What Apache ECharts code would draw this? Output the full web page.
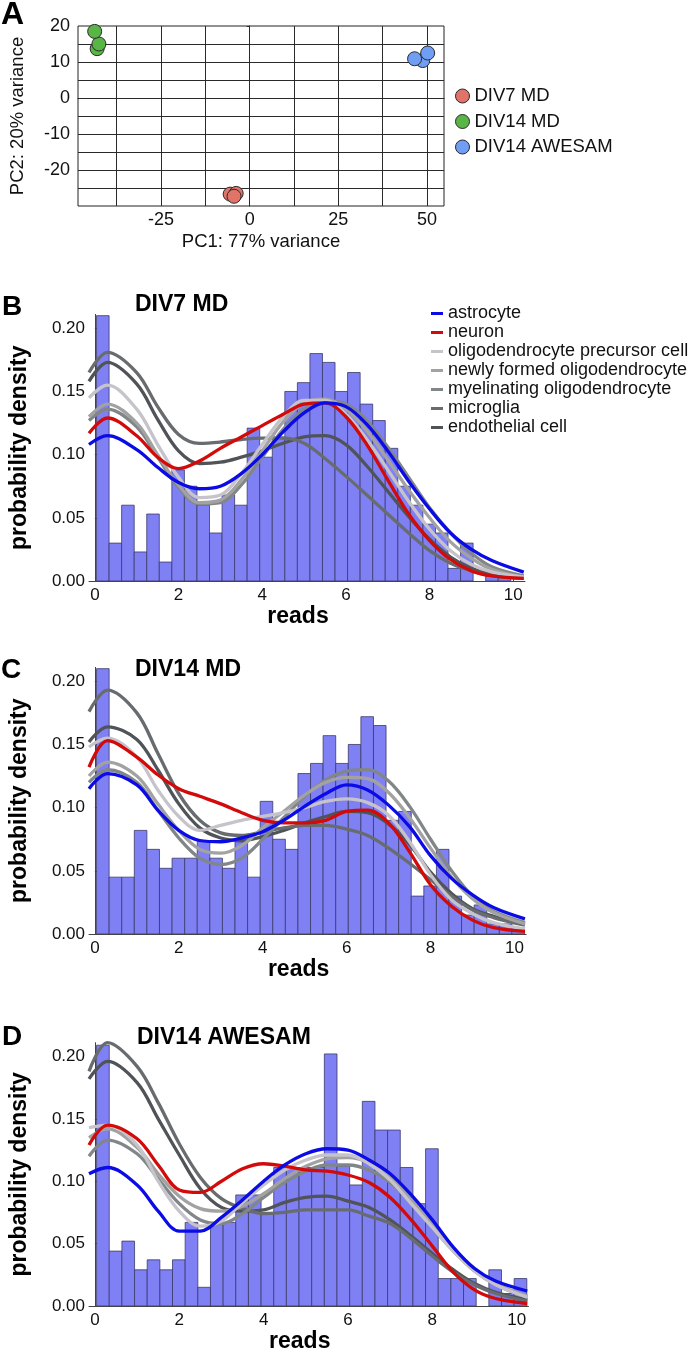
<!DOCTYPE html>
<html><head><meta charset="utf-8">
<script src="https://cdn.jsdelivr.net/npm/echarts@6/dist/echarts.min.js"></script>
<style>html,body{margin:0;padding:0;background:#fff}#main{width:700px;height:1354px}</style>
</head><body><div id="main"></div>
<script>
// ---------- Panel A: PCA ----------
const pcaGroups = ['DIV7 MD', 'DIV14 MD', 'DIV14 AWESAM'];
const pcaDIV7MD = [[-5.5, -26.7], [-3.8, -26.5], [-4.4, -27.3]];
const pcaDIV14MD = [[-43.0, 13.7], [-42.5, 15.0], [-43.7, 18.5]];
const pcaDIV14AWESAM = [[48.8, 10.4], [46.5, 10.9], [50.2, 12.5]];
const pcaXTicks = [-25, 0, 25, 50];
const pcaYTicks = [-20, -10, 0, 10, 20];
const pcaXGrid = [-37.5, -25, -12.5, 0, 12.5, 25, 37.5, 50];
const pcaYGrid = [-25, -20, -15, -10, -5, 0, 5, 10, 15];

// ---------- Panels B-D: histograms + densities ----------
const panelTitles = ['DIV7 MD', 'DIV14 MD', 'DIV14 AWESAM'];
const cellTypes = ['astrocyte', 'neuron', 'oligodendrocyte precursor cell', 'newly formed oligodendrocyte',
  'myelinating oligodendrocyte', 'microglia', 'endothelial cell'];
const readsTicks = [0, 2, 4, 6, 8, 10];
const densityTicks = [0, 0.05, 0.10, 0.15, 0.20];
const binEdges = [0.04, 0.34, 0.64, 0.94, 1.24, 1.54, 1.84, 2.14, 2.44, 2.74, 3.04, 3.34, 3.64, 3.94, 4.24,
  4.54, 4.84, 5.14, 5.44, 5.74, 6.04, 6.34, 6.64, 6.94, 7.24, 7.54, 7.84, 8.14, 8.44, 8.74, 9.04, 9.34,
  9.64, 9.94, 10.24];

const histB = [0.210, 0.030, 0.060, 0.023, 0.053, 0.015, 0.088, 0.075, 0.060, 0.038, 0.068, 0.060, 0.121,
  0.098, 0.114, 0.150, 0.157, 0.180, 0.173, 0.150, 0.165, 0.140, 0.127, 0.105, 0.075, 0.060, 0.045, 0.038,
  0.010, 0.030, 0, 0.004, 0.004, 0];
const histC = [0.210, 0.045, 0.045, 0.082, 0.067, 0.052, 0.060, 0.060, 0.074, 0.060, 0.052, 0.073, 0.045,
  0.105, 0.075, 0.067, 0.127, 0.135, 0.157, 0.135, 0.150, 0.172, 0.165, 0.090, 0.097, 0.030, 0.038, 0.067,
  0.030, 0.015, 0.023, 0.008, 0.008, 0.005];
const histD = [0.209, 0.044, 0.052, 0.029, 0.037, 0.029, 0.037, 0.067, 0.015, 0.067, 0.067, 0.089, 0.089,
  0.075, 0.111, 0.111, 0.111, 0.111, 0.202, 0.112, 0.097, 0.164, 0.141, 0.141, 0.111, 0.082, 0.126, 0.022,
  0.022, 0.022, 0, 0.029, 0.010, 0.022];

const readsX = [-0.14, 0.3, 1, 1.5, 2, 2.5, 3, 3.5, 4, 4.5, 5, 5.5, 6, 6.5, 7, 7.5, 8, 8.5, 9, 9.5, 10.25];

// DIV7 MD densities
const B_astrocyte = [0.108, 0.115, 0.104, 0.090, 0.078, 0.073, 0.075, 0.085, 0.100, 0.118, 0.133, 0.141, 0.138, 0.124, 0.103, 0.079, 0.057, 0.038, 0.025, 0.016, 0.007];
const B_neuron = [0.117, 0.129, 0.115, 0.098, 0.089, 0.095, 0.105, 0.114, 0.123, 0.132, 0.140, 0.141, 0.130, 0.108, 0.080, 0.053, 0.032, 0.017, 0.008, 0.004, 0.002];
const B_opc = [0.145, 0.155, 0.136, 0.108, 0.082, 0.066, 0.068, 0.085, 0.108, 0.130, 0.143, 0.143, 0.132, 0.112, 0.088, 0.063, 0.041, 0.024, 0.013, 0.007, 0.003];
const B_nfo = [0.130, 0.140, 0.125, 0.100, 0.076, 0.062, 0.064, 0.080, 0.103, 0.126, 0.141, 0.144, 0.136, 0.119, 0.096, 0.072, 0.050, 0.031, 0.018, 0.009, 0.003];
const B_myel = [0.127, 0.136, 0.122, 0.098, 0.074, 0.061, 0.062, 0.076, 0.098, 0.120, 0.136, 0.143, 0.140, 0.127, 0.106, 0.082, 0.058, 0.038, 0.022, 0.011, 0.004];
const B_micro = [0.165, 0.181, 0.165, 0.138, 0.116, 0.109, 0.110, 0.112, 0.113, 0.113, 0.109, 0.097, 0.083, 0.068, 0.053, 0.038, 0.024, 0.014, 0.008, 0.004, 0.002];
const B_endo = [0.158, 0.173, 0.156, 0.128, 0.103, 0.093, 0.094, 0.098, 0.103, 0.109, 0.114, 0.115, 0.108, 0.091, 0.071, 0.051, 0.033, 0.019, 0.010, 0.005, 0.002];

// DIV14 MD densities
const C_astrocyte = [0.115, 0.127, 0.118, 0.098, 0.082, 0.074, 0.073, 0.076, 0.081, 0.090, 0.101, 0.111, 0.118, 0.114, 0.102, 0.085, 0.062, 0.044, 0.031, 0.021, 0.012];
const C_neuron = [0.132, 0.153, 0.140, 0.126, 0.115, 0.109, 0.103, 0.096, 0.090, 0.088, 0.088, 0.090, 0.097, 0.098, 0.088, 0.065, 0.039, 0.022, 0.011, 0.005, 0.002];
const C_opc = [0.148, 0.155, 0.140, 0.114, 0.093, 0.082, 0.086, 0.090, 0.093, 0.096, 0.100, 0.105, 0.107, 0.104, 0.094, 0.073, 0.047, 0.027, 0.016, 0.009, 0.004];
const C_nfo = [0.125, 0.136, 0.125, 0.103, 0.082, 0.067, 0.064, 0.070, 0.084, 0.097, 0.110, 0.120, 0.124, 0.123, 0.112, 0.092, 0.068, 0.045, 0.028, 0.017, 0.008];
const C_myel = [0.120, 0.130, 0.120, 0.098, 0.076, 0.060, 0.055, 0.060, 0.075, 0.092, 0.109, 0.122, 0.129, 0.130, 0.121, 0.101, 0.075, 0.050, 0.030, 0.018, 0.009];
const C_micro = [0.176, 0.193, 0.175, 0.143, 0.111, 0.090, 0.080, 0.078, 0.081, 0.084, 0.086, 0.086, 0.083, 0.078, 0.068, 0.056, 0.043, 0.030, 0.019, 0.013, 0.007];
const C_endo = [0.152, 0.164, 0.154, 0.130, 0.103, 0.084, 0.076, 0.074, 0.077, 0.082, 0.088, 0.093, 0.097, 0.096, 0.087, 0.071, 0.049, 0.032, 0.020, 0.014, 0.008];

// DIV14 AWESAM densities
const D_astrocyte = [0.106, 0.111, 0.097, 0.076, 0.060, 0.060, 0.071, 0.085, 0.100, 0.113, 0.122, 0.126, 0.125, 0.117, 0.106, 0.089, 0.069, 0.047, 0.030, 0.020, 0.012];
const D_neuron = [0.129, 0.145, 0.134, 0.113, 0.093, 0.091, 0.100, 0.110, 0.114, 0.112, 0.109, 0.108, 0.105, 0.099, 0.087, 0.069, 0.048, 0.027, 0.013, 0.006, 0.002];
const D_opc = [0.143, 0.145, 0.129, 0.100, 0.076, 0.064, 0.068, 0.083, 0.097, 0.109, 0.117, 0.121, 0.121, 0.114, 0.101, 0.082, 0.063, 0.044, 0.028, 0.017, 0.007];
const D_nfo = [0.135, 0.142, 0.127, 0.106, 0.088, 0.078, 0.076, 0.080, 0.090, 0.102, 0.112, 0.118, 0.119, 0.115, 0.104, 0.086, 0.065, 0.046, 0.030, 0.018, 0.008];
const D_myel = [0.120, 0.133, 0.122, 0.102, 0.082, 0.069, 0.066, 0.074, 0.087, 0.099, 0.108, 0.113, 0.113, 0.109, 0.099, 0.083, 0.063, 0.044, 0.028, 0.017, 0.007];
const D_micro = [0.188, 0.211, 0.192, 0.163, 0.130, 0.103, 0.086, 0.078, 0.074, 0.075, 0.077, 0.077, 0.077, 0.072, 0.066, 0.054, 0.040, 0.027, 0.017, 0.010, 0.004];
const D_endo = [0.182, 0.196, 0.179, 0.150, 0.121, 0.094, 0.079, 0.076, 0.077, 0.083, 0.087, 0.088, 0.084, 0.079, 0.069, 0.056, 0.042, 0.029, 0.018, 0.011, 0.005];

// ---------- styling ----------
const FONT = "'Liberation Sans', Arial, Helvetica, sans-serif";
const pcaColors = ['#E07468', '#5AB547', '#6F9EF4'];
const cellColors = ['#0B0BE6', '#D30A0A', '#C6C3CA', '#A2A2A2', '#818688', '#686C6F', '#505458'];
const drawOrder = [6, 5, 4, 3, 2, 1, 0];

const panelCurves = [
  [B_astrocyte, B_neuron, B_opc, B_nfo, B_myel, B_micro, B_endo],
  [C_astrocyte, C_neuron, C_opc, C_nfo, C_myel, C_micro, C_endo],
  [D_astrocyte, D_neuron, D_opc, D_nfo, D_myel, D_micro, D_endo]
];
const panelHists = [histB, histC, histD];
const panelGrids = [
  {left: 85, top: 314.4, width: 440, height: 266.6},
  {left: 86.2, top: 667.4, width: 440, height: 266.6},
  {left: 88.5, top: 1042.7, width: 440, height: 266.6}
];

const grid = [{left: 71, top: 26, width: 373, height: 180, show: true, borderColor: '#222', borderWidth: 1,
  backgroundColor: 'transparent'}].concat(panelGrids);

const xAxis = [{
  gridIndex: 0, type: 'value', min: -48.4, max: 54.8,
  splitLine: {show: false},
  axisLine: {show: true, lineStyle: {color: '#222', width: 1}},
  axisTick: {show: true, length: 3, customValues: pcaXTicks, lineStyle: {color: '#333'}},
  axisLabel: {customValues: pcaXTicks, margin: 5, fontSize: 18, color: '#111', fontFamily: FONT},
  name: 'PC1: 77% variance', nameLocation: 'middle', nameGap: 26,
  nameTextStyle: {fontSize: 18.5, color: '#111', fontFamily: FONT}
}];
const yAxis = [{
  gridIndex: 0, type: 'value', min: -30, max: 20,
  splitLine: {show: false},
  axisLine: {show: true, lineStyle: {color: '#222', width: 1}},
  axisTick: {show: true, length: 3, customValues: pcaYTicks, lineStyle: {color: '#333'}},
  axisLabel: {customValues: pcaYTicks, margin: 8, fontSize: 18, color: '#111', fontFamily: FONT},
  name: 'PC2: 20% variance', nameLocation: 'middle', nameGap: 51, nameRotate: 90,
  nameTextStyle: {fontSize: 18.5, color: '#111', fontFamily: FONT}
}];

for (let p = 0; p < 3; p++) {
  const gi = p + 1;
  xAxis.push({
    gridIndex: gi, type: 'value', min: -0.14, max: 10.28,
    splitLine: {show: false},
    axisLine: {show: true, lineStyle: {color: '#444', width: 1}},
    axisTick: {show: true, inside: true, length: 5, customValues: readsTicks, lineStyle: {color: '#444'}},
    axisLabel: {customValues: readsTicks, margin: 6, fontSize: 17, color: '#111', fontFamily: FONT},
    name: 'reads', nameLocation: 'middle', nameGap: 24,
    nameTextStyle: {fontSize: 23, fontWeight: 'bold', color: '#000', fontFamily: FONT, padding: [0, 18, 0, 0]}
  });
  yAxis.push({
    gridIndex: gi, type: 'value', min: 0, max: 0.211,
    splitLine: {show: false},
    axisLine: {show: true, lineStyle: {color: '#444', width: 1}},
    axisTick: {show: true, inside: true, length: 5, customValues: densityTicks, lineStyle: {color: '#444'}},
    axisLabel: {customValues: densityTicks, margin: 4, fontSize: 17, color: '#111', fontFamily: FONT,
      formatter: v => Number(v).toFixed(2)},
    name: 'probability density', nameLocation: 'middle', nameGap: 58, nameRotate: 90,
    nameTextStyle: {fontSize: 23, fontWeight: 'bold', color: '#000', fontFamily: FONT}
  });
}

const series = [];
const pcaSets = [pcaDIV7MD, pcaDIV14MD, pcaDIV14AWESAM];
pcaSets.forEach((pts, i) => {
  const s = {
    type: 'scatter', name: pcaGroups[i], xAxisIndex: 0, yAxisIndex: 0, data: pts,
    symbol: 'circle', symbolSize: 14, z: 10,
    itemStyle: {color: pcaColors[i], borderColor: '#2a2a2a', borderWidth: 1, opacity: 1}
  };
  if (i === 0) {
    s.markLine = {
      silent: true, symbol: ['none', 'none'], label: {show: false}, animation: false,
      lineStyle: {color: '#2a2a2a', width: 1, type: 'solid'},
      emphasis: {disabled: true},
      data: pcaXGrid.map(v => ({xAxis: v})).concat(pcaYGrid.map(v => ({yAxis: v})))
    };
  }
  series.push(s);
});

for (let p = 0; p < 3; p++) {
  const gi = p + 1;
  const hist = panelHists[p];
  series.push({
    type: 'custom', name: 'hist' + p, xAxisIndex: gi, yAxisIndex: gi, z: 2, clip: true,
    data: hist.map((h, i) => [binEdges[i], binEdges[i + 1], h]),
    encode: {x: [0, 1], y: 2},
    renderItem: function (params, api) {
      const h = api.value(2);
      if (!(h > 0)) return null;
      const a = api.coord([api.value(0), h]);
      const b = api.coord([api.value(1), 0]);
      return {type: 'rect', shape: {x: a[0], y: a[1], width: b[0] - a[0], height: b[1] - a[1]},
        style: {fill: '#8080F5', stroke: '#3A3A68', lineWidth: 0.8}};
    }
  });
  drawOrder.forEach((k, ord) => {
    const vals = panelCurves[p][k];
    series.push({
      type: 'line', name: cellTypes[k], xAxisIndex: gi, yAxisIndex: gi,
      data: readsX.map((x, i) => [x, vals[i]]),
      smooth: 0.35, showSymbol: false, symbol: 'none', clip: true, z: 3 + ord,
      color: cellColors[k],
      lineStyle: {width: 3.3, color: cellColors[k]},
      itemStyle: {color: cellColors[k]},
      emphasis: {disabled: true}
    });
  });
}

const legend = [
  {data: pcaGroups, orient: 'vertical', left: 455, top: 86.5, padding: 0, itemWidth: 14, itemHeight: 14, itemGap: 6.5,
    icon: 'circle', selectedMode: false,
    itemStyle: {borderColor: '#2a2a2a', borderWidth: 1},
    textStyle: {fontSize: 18.5, color: '#111', fontFamily: FONT, lineHeight: 18}},
  {data: cellTypes, orient: 'vertical', left: 431, top: 304, padding: 0, itemWidth: 12, itemHeight: 3, itemGap: 0,
    icon: 'rect', selectedMode: false,
    textStyle: {fontSize: 18, color: '#111', fontFamily: FONT, lineHeight: 19}}
];

const title = [
  {text: 'A', left: 1, top: -1, padding: 0, textStyle: {fontSize: 32, fontWeight: 'bold', color: '#000', fontFamily: FONT}},
  {text: 'B', left: 2, top: 293, padding: 0, textStyle: {fontSize: 28, fontWeight: 'bold', color: '#000', fontFamily: FONT}},
  {text: 'C', left: 1, top: 656, padding: 0, textStyle: {fontSize: 28, fontWeight: 'bold', color: '#000', fontFamily: FONT}},
  {text: 'D', left: 2, top: 1023, padding: 0, textStyle: {fontSize: 28, fontWeight: 'bold', color: '#000', fontFamily: FONT}},
  {text: panelTitles[0], left: 135, top: 293, padding: 0, textStyle: {fontSize: 23, fontWeight: 'bold', color: '#000', fontFamily: FONT}},
  {text: panelTitles[1], left: 135, top: 658, padding: 0, textStyle: {fontSize: 23, fontWeight: 'bold', color: '#000', fontFamily: FONT}},
  {text: panelTitles[2], left: 137, top: 1026.5, padding: 0, textStyle: {fontSize: 23, fontWeight: 'bold', color: '#000', fontFamily: FONT}}
];

const chart = echarts.init(document.getElementById('main'), null, {renderer: 'canvas'});
chart.setOption({
  animation: false,
  backgroundColor: '#ffffff',
  textStyle: {fontFamily: FONT},
  title: title,
  legend: legend,
  grid: grid,
  xAxis: xAxis,
  yAxis: yAxis,
  series: series
});
</script></body></html>
